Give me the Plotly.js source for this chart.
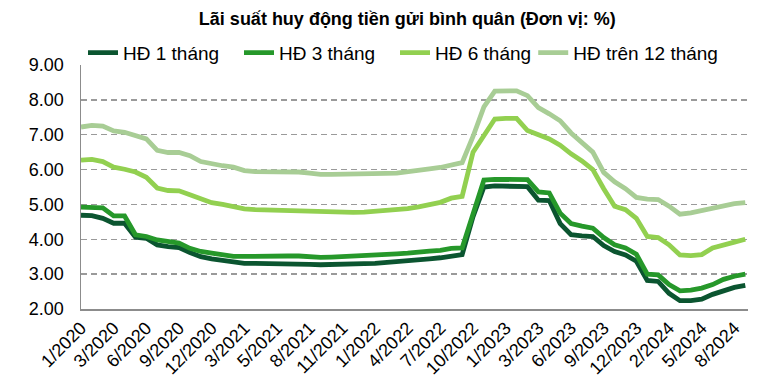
<!DOCTYPE html>
<html>
<head>
<meta charset="utf-8">
<script src="https://cdn.plot.ly/plotly-3.0.1.min.js"></script>
<style>html,body{margin:0;padding:0;background:#fff}#chart{width:757px;height:380px}</style>
</head>
<body>
<div id="chart"></div>
<script>
// Week index (weekly data, sampled every 4 weeks) from 1/2020
const weeks = [0,4,8,12,16,20,24,28,32,36,40,44,48,52,56,60,
  64,68,72,76,80,84,88,92,96,100,104,108,112,116,120,124,
  128,132,136,140,144,148,152,156,160,164,168,172,176,180,184,188,
  192,196,200,204,208,212,216,220,224,228,232,236,240,244];

const hd1 = [4.69,4.68,4.60,4.46,4.46,4.06,4.03,3.84,3.79,3.76,3.62,3.50,3.44,3.39,3.34,3.31,
  3.31,3.31,3.31,3.30,3.30,3.28,3.27,3.27,3.27,3.28,3.30,3.31,3.33,3.35,3.38,3.42,
  3.44,3.47,3.53,3.56,4.65,5.50,5.53,5.53,5.52,5.51,5.12,5.11,4.45,4.13,4.10,4.08,
  3.82,3.65,3.55,3.37,2.82,2.79,2.45,2.24,2.24,2.28,2.42,2.52,2.62,2.68];

const hd3 = [4.92,4.92,4.90,4.67,4.67,4.13,4.08,3.98,3.92,3.89,3.74,3.65,3.60,3.55,3.51,3.51,
  3.52,3.52,3.52,3.52,3.52,3.49,3.48,3.49,3.50,3.52,3.53,3.54,3.56,3.58,3.60,3.64,
  3.66,3.68,3.74,3.75,4.70,5.70,5.72,5.72,5.72,5.71,5.36,5.33,4.75,4.45,4.38,4.32,
  4.05,3.84,3.75,3.57,3.00,2.98,2.70,2.52,2.54,2.60,2.70,2.85,2.94,3.00];

const hd6 = [6.27,6.29,6.23,6.07,6.01,5.93,5.78,5.47,5.40,5.39,5.28,5.15,5.05,5.00,4.94,4.87,
  4.85,4.84,4.84,4.84,4.83,4.80,4.78,4.77,4.77,4.77,4.78,4.80,4.82,4.85,4.88,4.93,
  4.98,5.06,5.18,5.23,6.50,7.00,7.45,7.47,7.47,7.12,7.00,6.88,6.70,6.45,6.25,6.00,
  5.45,4.95,4.85,4.60,4.08,4.05,3.84,3.55,3.53,3.56,3.75,3.82,3.92,4.00];

const hd12 = [7.22,7.27,7.25,7.11,7.07,6.98,6.88,6.55,6.49,6.49,6.40,6.23,6.16,6.11,6.07,5.97,
  5.94,5.94,5.94,5.94,5.93,5.90,5.86,5.86,5.86,5.86,5.87,5.88,5.89,5.90,5.93,5.98,
  6.02,6.06,6.12,6.20,6.95,7.80,8.25,8.26,8.26,8.12,7.78,7.60,7.40,7.05,6.78,6.50,
  5.92,5.65,5.45,5.20,5.15,5.14,4.95,4.72,4.76,4.82,4.90,4.97,5.02,5.05];

const seriesNames = ["HĐ 1 tháng","HĐ 3 tháng","HĐ 6 tháng","HĐ trên 12 tháng"];
const tickWeeks = [0,12,24,36,48,60,72,84,96,108,120,132,144,156,168,180,192,204,216,228,240];
const tickLabels = ["1/2020","3/2020","6/2020","9/2020","12/2020","3/2021","5/2021","8/2021","11/2021","1/2022","4/2022","7/2022","10/2022","1/2023","3/2023","6/2023","9/2023","12/2023","2/2024","5/2024","8/2024"];

const colors = ["#0b5530","#26982a","#92d050","#a8cd95"];
const font = "Arial, 'Liberation Sans', sans-serif";
const all = [hd1,hd3,hd6,hd12];

const traces = all.map((v,i)=>({
  x: weeks, y: v, type:'scatter', mode:'lines', name: seriesNames[i],
  legend: i < 3 ? 'legend' : 'legend2',
  line:{color:colors[i], width:4.8, shape:'linear'}
}));

const legendFont = {size:19, family:font, color:'#000'};

const layout = {
  width:757, height:380,
  margin:{l:81,r:9,t:65,b:71},
  paper_bgcolor:'#fff', plot_bgcolor:'#fff',
  font:{family:font, color:'#000', size:18},
  title:{text:'<b>Lãi suất huy động tiền gửi bình quân (Đơn vị: %)</b>', font:{size:18, family:font, color:'#000'},
    x:0.538, xref:'container', xanchor:'center', y:0.952, yref:'container', yanchor:'middle'},
  showlegend:true,
  legend:{orientation:'h', x:0.003, xanchor:'left', y:1.05, yanchor:'middle',
    font:legendFont, entrywidth:111, entrywidthmode:'pixels',
    bgcolor:'rgba(0,0,0,0)', traceorder:'normal'},
  legend2:{orientation:'h', x:0.678, xanchor:'left', y:1.05, yanchor:'middle',
    font:legendFont, bgcolor:'rgba(0,0,0,0)'},
  xaxis:{range:[0,245], showgrid:false, zeroline:false, showline:true, linecolor:'#8c8c8c', linewidth:1.5,
    tickmode:'array', tickvals:tickWeeks, ticktext:tickLabels, tickangle:-45,
    tickfont:{size:18, family:font, color:'#000'}, ticks:'', fixedrange:true},
  yaxis:{range:[2,9], dtick:1, tick0:2, tickformat:'.2f', showgrid:true, gridcolor:'#9a9a9a', gridwidth:1.3,
    griddash:'6px,4px', zeroline:false, showline:true, linecolor:'#8c8c8c', linewidth:1.5,
    ticks:'outside', ticklen:12, tickcolor:'rgba(0,0,0,0)',
    tickfont:{size:18, family:font, color:'#000'}, fixedrange:true}
};

Plotly.newPlot('chart', traces, layout, {displayModeBar:false, staticPlot:true});
</script>
</body>
</html>
